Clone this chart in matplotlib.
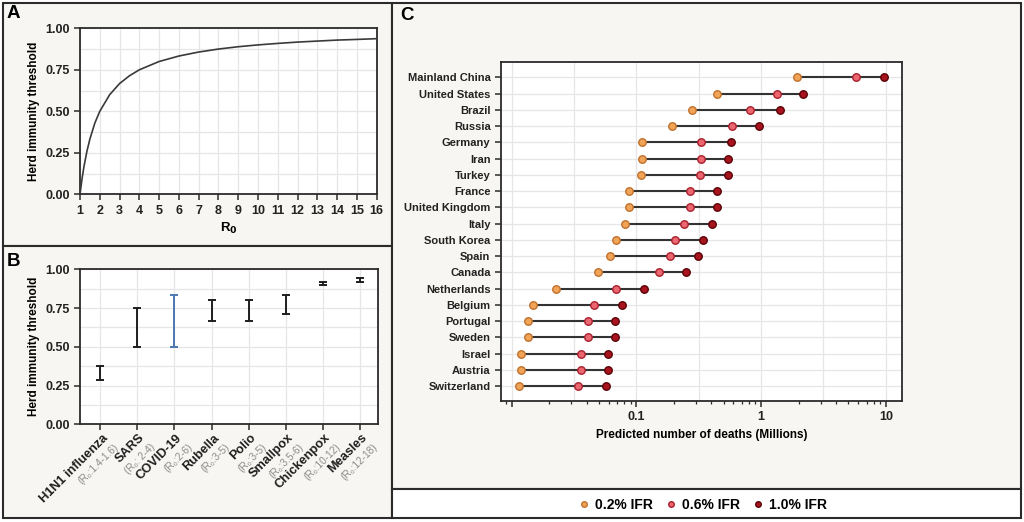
import matplotlib.pyplot as plt
from matplotlib.lines import Line2D
from matplotlib.patches import Rectangle

plt.rcParams['font.family'] = ['Liberation Sans', 'DejaVu Sans']

# Panel A: herd immunity threshold vs R0
r0_values = [1, 1.1, 1.2, 1.35, 1.5, 1.75, 2, 2.5, 3, 3.5, 4, 5, 6, 7, 8,
             9, 10, 11, 12, 13, 14, 15, 16]
hit_values = [0.0, 0.091, 0.167, 0.259, 0.333, 0.429, 0.5, 0.6, 0.667, 0.714,
              0.75, 0.8, 0.833, 0.857, 0.875, 0.889, 0.9, 0.909, 0.917,
              0.923, 0.929, 0.933, 0.9375]

# Panel B: threshold ranges per disease
diseases = ['H1N1 influenza', 'SARS', 'COVID-19', 'Rubella', 'Polio',
            'Smallpox', 'Chickenpox', 'Measles']
r0_ranges = ['(R₀:1.4-1.6)', '(R₀: 2-4)', '(R₀:2-6)', '(R₀:3-5)', '(R₀:3-5)',
             '(R₀:3.5-6)', '(R₀:10-12)', '(R₀:12-18)']
hit_low = [0.286, 0.5, 0.5, 0.667, 0.667, 0.714, 0.9, 0.917]
hit_high = [0.375, 0.75, 0.833, 0.8, 0.8, 0.833, 0.917, 0.944]

# Panel C: predicted deaths (millions)
countries = ['Mainland China', 'United States', 'Brazil', 'Russia', 'Germany',
             'Iran', 'Turkey', 'France', 'United Kingdom', 'Italy',
             'South Korea', 'Spain', 'Canada', 'Netherlands', 'Belgium',
             'Portugal', 'Sweden', 'Israel', 'Austria', 'Switzerland']
ifr_02 = [1.94, 0.444, 0.281, 0.194, 0.110, 0.110, 0.109, 0.0879, 0.0879,
          0.0806, 0.0687, 0.0615, 0.0496, 0.0227, 0.0149, 0.0135, 0.0135,
          0.0120, 0.0118, 0.0115]
ifr_06 = [5.78, 1.35, 0.816, 0.585, 0.332, 0.332, 0.326, 0.268, 0.268,
          0.243, 0.204, 0.185, 0.152, 0.0687, 0.0461, 0.0407, 0.0407,
          0.0357, 0.0357, 0.0343]
ifr_10 = [9.62, 2.17, 1.41, 0.957, 0.571, 0.547, 0.547, 0.444, 0.444,
          0.402, 0.343, 0.313, 0.250, 0.115, 0.0768, 0.0679, 0.0679,
          0.0596, 0.0596, 0.0567]
ifr_labels = ['0.2% IFR', '0.6% IFR', '1.0% IFR']

W, H = 1024, 522
fig = plt.figure(figsize=(W / 100, H / 100), dpi=100)
fig.patch.set_facecolor('white')

panel_bg = '#f7f6f2'
edge = '#2b2b2b'
grid_c = '#e6e6e6'


def box(x0, y0, x1, y1, fc):
    fig.patches.append(Rectangle((x0 / W, 1 - y1 / H), (x1 - x0) / W, (y1 - y0) / H,
                                 transform=fig.transFigure, facecolor=fc,
                                 edgecolor=edge, lw=1.5, zorder=-5))


box(3, 3, 392, 246, panel_bg)
box(3, 246, 392, 518, panel_bg)
box(392, 3, 1021, 489, panel_bg)
box(392, 489, 1021, 518, 'white')


def style_axes(ax):
    for s in ax.spines.values():
        s.set_color(edge)
        s.set_linewidth(1.3)
    ax.tick_params(colors=edge, width=1.1, length=4, labelsize=9)
    for lab in ax.get_xticklabels() + ax.get_yticklabels():
        lab.set_fontweight('bold')
        lab.set_color('#222222')


def ax_rect(l, t, r, b):
    return [l / W, 1 - b / H, (r - l) / W, (b - t) / H]


# ---- Panel A
axA = fig.add_axes(ax_rect(80, 28.3, 376.7, 194.3))
axA.plot(r0_values, hit_values, color='#3a3a3a', lw=1.2, zorder=3)
axA.set_xlim(1, 16)
axA.set_ylim(0, 1)
axA.set_xticks(range(1, 17))
axA.set_yticks([0, 0.25, 0.5, 0.75, 1.0])
axA.set_yticklabels(['0.00', '0.25', '0.50', '0.75', '1.00'])
axA.set_yticks([0.125, 0.375, 0.625, 0.875], minor=True)
axA.tick_params(axis='y', which='minor', length=0)
axA.grid(True, which='both', color=grid_c, lw=0.9)
axA.set_axisbelow(True)
axA.set_xlabel('R$_\\mathbf{0}$', fontsize=9.5, fontweight='bold', labelpad=3)
axA.set_ylabel('Herd immunity threshold', fontsize=8.5, fontweight='bold', labelpad=4)
style_axes(axA)

# ---- Panel B
axB = fig.add_axes(ax_rect(80, 269.3, 378.3, 424.3))
xs = list(range(len(diseases)))
for i in xs:
    col = '#4a78b0' if diseases[i] == 'COVID-19' else '#1e1e1e'
    mid = (hit_low[i] + hit_high[i]) / 2
    axB.errorbar(i, mid, yerr=[[mid - hit_low[i]], [hit_high[i] - mid]],
                 fmt='none', ecolor=col, elinewidth=1.4, capsize=3.2,
                 capthick=1.4, zorder=3)
axB.set_xlim(-0.55, 7.5)
axB.set_ylim(0, 1)
axB.set_xticks(xs)
axB.set_xticklabels([])
axB.set_yticks([0, 0.25, 0.5, 0.75, 1.0])
axB.set_yticklabels(['0.00', '0.25', '0.50', '0.75', '1.00'])
axB.set_yticks([0.125, 0.375, 0.625, 0.875], minor=True)
axB.tick_params(axis='y', which='minor', length=0)
axB.grid(True, which='both', color=grid_c, lw=0.9)
axB.set_axisbelow(True)
axB.set_ylabel('Herd immunity threshold', fontsize=8.5, fontweight='bold', labelpad=4)
style_axes(axB)
for i in xs:
    axB.annotate(diseases[i], xy=(i, 0), xycoords=('data', 'axes fraction'),
                 xytext=(4, -8.5), textcoords='offset points', rotation=45,
                 ha='right', va='center', rotation_mode='anchor',
                 fontsize=9.2, fontweight='bold', color='#1e1e1e')
    axB.annotate(r0_ranges[i], xy=(i, 0), xycoords=('data', 'axes fraction'),
                 xytext=(11.5, -15), textcoords='offset points', rotation=45,
                 ha='right', va='center', rotation_mode='anchor',
                 fontsize=7.2, color='#8a8a8a')

# ---- Panel C
axC = fig.add_axes(ax_rect(501, 62, 901.7, 401))
ys = list(range(len(countries)))
for i in ys:
    axC.plot([ifr_02[i], ifr_10[i]], [i, i], color='#333333', lw=1.5, zorder=2)
colors = [('#f0a458', '#c0702c'), ('#ea6670', '#a8202c'), ('#a8141e', '#5a0408')]
for vals, (fc, ec) in zip([ifr_02, ifr_06, ifr_10], colors):
    axC.plot(vals, ys, 'o', ms=5.4, mfc=fc, mec=ec, mew=1.0, zorder=3, ls='none')
axC.set_xscale('log')
axC.set_xlim(0.00822, 13.4)
axC.set_ylim(len(countries) - 1 + 0.92, -0.94)
axC.set_yticks(ys)
axC.set_yticklabels(countries)
axC.set_xticks([0.01, 0.1, 1, 10])
axC.set_xticklabels(['', '0.1', '1', '10'])
minor = [m * 10.0 ** e for e in (-3, -2, -1, 0) for m in range(2, 10)]
axC.set_xticks([v for v in minor if 0.00822 < v < 13.4], minor=True)
axC.set_xticklabels([], minor=True)
axC.tick_params(axis='x', which='minor', length=2.5, width=0.9, colors=edge)
axC.tick_params(axis='x', which='major', length=5)
axC.grid(True, axis='y', color=grid_c, lw=0.9)
axC.grid(True, axis='x', which='major', color=grid_c, lw=0.9)
for g in [10 ** -1.5, 10 ** -0.5, 10 ** 0.5]:
    axC.axvline(g, color=grid_c, lw=0.9, zorder=0)
axC.set_axisbelow(True)
axC.set_xlabel('Predicted number of deaths (Millions)', fontsize=8.5,
               fontweight='bold', labelpad=4)
style_axes(axC)
axC.tick_params(axis='y', labelsize=8)

handles = [Line2D([], [], marker='o', ls='none', ms=4, mfc=fc, mec=ec, mew=1.0)
           for fc, ec in colors]
leg = fig.legend(handles, ifr_labels, loc='center', bbox_to_anchor=(0.687, 0.032),
                 ncol=3, frameon=False, fontsize=10, handlelength=0.6,
                 handletextpad=0.5, columnspacing=1.0)
for t in leg.get_texts():
    t.set_fontweight('bold')

# Panel letters
for lab, x, y in [('A', 7, 14), ('B', 7, 262), ('C', 400, 16)]:
    fig.text(x / W, 1 - y / H, lab, fontsize=13.5, fontweight='bold', va='center')

fig.savefig('out.png', dpi=100)
